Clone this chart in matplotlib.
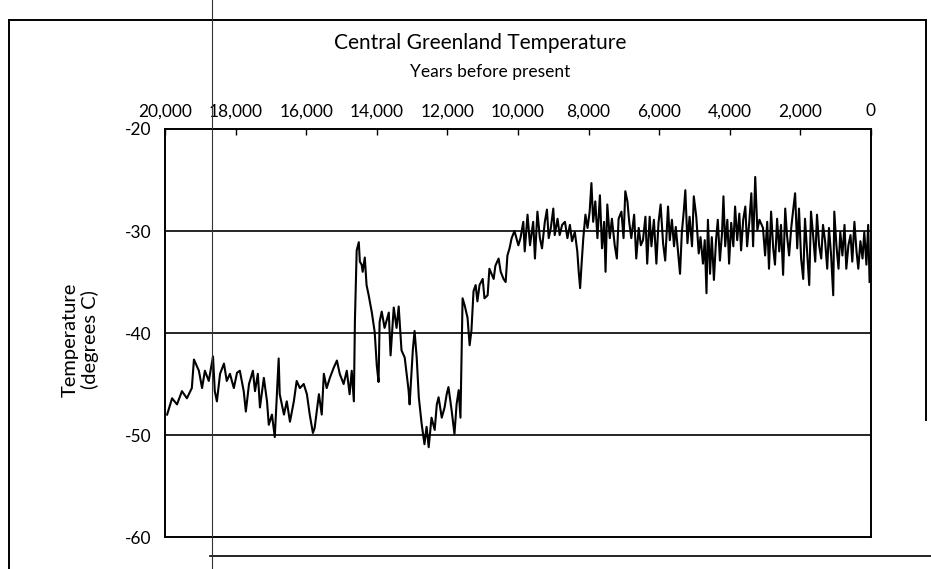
import numpy as np
import matplotlib
matplotlib.use("Agg")
import matplotlib.pyplot as plt
from matplotlib.lines import Line2D
from matplotlib.ticker import FuncFormatter

plt.rcParams['font.family'] = ['Lato', 'DejaVu Sans']
plt.rcParams['axes.unicode_minus'] = False

# ---------- Daten ----------
# letzte Eiszeit, 20.000 - 14.700 Jahre vor heute
glacial_years = [19940, 19800, 19660, 19520, 19380, 19240, 19180, 19040, 18950, 18870,
                 18760, 18640, 18590, 18530, 18440, 18330, 18250, 18160, 18050, 17960,
                 17880, 17770, 17710, 17620, 17510, 17450, 17370, 17310, 17200, 17110,
                 17060, 16970, 16890, 16780, 16750, 16630, 16550, 16460, 16350, 16270,
                 16180, 16070, 15980, 15900, 15810, 15760, 15640, 15560, 15500, 15420,
                 15330, 15220, 15130, 15050, 14940, 14850, 14770, 14710, 14650]
glacial_temps = [-48.0, -46.4, -47.0, -45.7, -46.4, -45.4, -42.6, -43.7, -45.4, -43.7,
                 -44.7, -42.3, -45.7, -46.7, -44.0, -43.0, -44.7, -44.0, -45.4, -43.9,
                 -43.7, -45.7, -47.7, -45.0, -43.7, -45.7, -44.0, -47.3, -44.4, -46.7,
                 -49.0, -48.0, -50.2, -42.5, -46.0, -48.0, -46.7, -48.7, -46.7, -44.7,
                 -45.4, -45.0, -46.0, -48.0, -49.8, -49.3, -46.0, -48.0, -44.0, -45.4,
                 -44.4, -43.4, -42.7, -44.0, -45.0, -43.7, -46.0, -43.7, -46.7]

# Boelling-Alleroed, Juengere Dryas, Uebergang ins Holozaen
deglacial_years = [14620, 14570, 14510, 14480, 14430, 14400, 14340, 14290, 14230, 14140,
                   14060, 14000, 13950, 13920, 13860, 13780, 13660, 13610, 13520, 13440,
                   13380, 13300, 13210, 13100, 13070, 12980, 12930, 12870, 12810, 12730,
                   12650, 12590, 12530, 12450, 12360, 12300, 12250, 12160, 12080, 12020,
                   11970, 11880, 11800, 11740, 11680, 11630, 11570, 11510, 11430, 11370,
                   11320, 11260, 11200, 11150, 11090, 11000, 10950, 10860, 10810, 10690,
                   10640, 10550, 10490, 10410, 10350, 10300, 10240, 10180, 10100, 9990,
                   9930]
deglacial_temps = [-38.8, -31.9, -31.1, -33.0, -33.3, -34.0, -32.6, -35.3, -36.3, -38.0,
                   -39.9, -43.2, -44.8, -38.9, -37.9, -39.5, -38.0, -42.2, -37.5, -39.5,
                   -37.4, -41.7, -42.4, -45.6, -47.0, -41.7, -39.8, -42.4, -46.3, -48.9,
                   -50.9, -49.2, -51.2, -48.3, -49.5, -47.0, -46.3, -48.3, -47.3, -46.0,
                   -45.3, -47.6, -49.9, -47.0, -45.6, -48.3, -36.6, -37.3, -38.5, -41.2,
                   -39.8, -35.9, -35.3, -36.9, -35.3, -34.7, -36.6, -36.3, -33.7, -34.7,
                   -33.4, -32.7, -34.0, -34.7, -35.0, -32.4, -31.7, -30.7, -30.0, -31.4,
                   -30.7]

# fruehes Holozaen (inkl. 8.200-Jahre-Ereignis)
early_holo_years = [9850, 9810, 9730, 9660, 9570, 9520, 9450, 9380, 9320, 9240,
                    9180, 9130, 9070, 9000, 8960, 8880, 8820, 8750, 8670, 8600,
                    8530, 8470, 8390, 8320, 8280, 8240, 8200, 8150, 8090, 8030,
                    7970, 7920, 7870, 7810, 7750, 7680, 7620, 7560, 7520, 7470,
                    7400, 7340, 7260, 7200, 7150, 7070, 7010, 6960, 6900, 6850,
                    6790, 6710, 6650, 6580, 6520]
early_holo_temps = [-29.1, -32.0, -28.4, -31.4, -29.1, -32.7, -28.1, -30.7, -31.7, -29.1,
                    -27.9, -30.7, -29.7, -27.8, -30.4, -28.8, -30.4, -29.4, -29.1, -30.7,
                    -29.4, -31.0, -30.1, -32.0, -34.0, -35.6, -33.3, -30.7, -28.4, -29.7,
                    -28.1, -25.3, -29.1, -27.1, -30.7, -26.5, -31.7, -29.1, -34.0, -27.4,
                    -30.7, -28.8, -31.4, -32.7, -28.8, -28.1, -30.7, -26.1, -27.1, -29.1,
                    -30.7, -28.4, -32.7, -29.7, -31.4]

# mittleres Holozaen
mid_holo_years = [6460, 6390, 6340, 6270, 6220, 6150, 6080, 6020, 5960, 5890,
                  5830, 5750, 5700, 5640, 5580, 5530, 5470, 5410, 5360, 5300,
                  5260, 5200, 5140, 5070, 5020, 4950, 4880, 4830, 4760, 4710,
                  4660, 4620, 4560, 4510, 4450, 4390, 4340, 4280, 4220, 4180,
                  4130, 4070, 4020, 3960, 3900, 3850, 3790, 3730, 3680, 3620,
                  3560, 3510, 3450, 3390, 3340, 3280, 3220, 3160]
mid_holo_temps = [-30.9, -28.6, -33.2, -28.6, -31.5, -28.9, -33.2, -29.2, -27.4, -31.2,
                  -32.9, -27.6, -30.9, -28.9, -31.5, -29.6, -31.9, -34.2, -30.2, -27.9,
                  -26.0, -31.2, -28.6, -31.5, -26.6, -28.6, -32.2, -30.6, -33.2, -30.9,
                  -36.1, -28.9, -34.2, -30.6, -34.8, -30.9, -28.9, -32.9, -30.2, -26.6,
                  -31.5, -28.9, -33.2, -29.2, -31.5, -27.6, -30.9, -28.3, -31.9, -28.9,
                  -27.6, -31.5, -29.2, -26.3, -31.5, -24.7, -29.9, -28.9]

# spaetes Holozaen
late_holo_years = [3060, 3000, 2940, 2890, 2830, 2770, 2720, 2660, 2600, 2550,
                   2490, 2430, 2380, 2320, 2260, 2210, 2150, 2090, 2040, 1980,
                   1920, 1870, 1810, 1750, 1700, 1640, 1580, 1530, 1470, 1410,
                   1360, 1300, 1240, 1190, 1130, 1070, 1040, 980, 920, 870,
                   810, 750, 700, 640, 580, 530, 470, 410, 360, 300,
                   240, 190, 130, 80, 40]
late_holo_temps = [-29.7, -32.4, -29.1, -33.7, -28.1, -31.7, -33.3, -28.8, -32.0, -29.4,
                   -34.3, -27.8, -30.4, -32.4, -29.7, -28.1, -26.3, -31.7, -27.8, -32.7,
                   -34.7, -28.8, -32.0, -35.3, -28.1, -30.4, -33.0, -28.4, -31.4, -32.7,
                   -29.4, -31.0, -33.7, -29.7, -32.4, -36.3, -28.1, -31.4, -33.7, -30.1,
                   -32.4, -29.4, -33.7, -31.4, -30.4, -33.0, -29.1, -32.0, -33.7, -31.0,
                   -32.7, -30.1, -33.3, -29.4, -35.0]

x_ticks = [20000, 18000, 16000, 14000, 12000, 10000, 8000, 6000, 4000, 2000, 0]
y_ticks = [-20, -30, -40, -50, -60]

years = np.concatenate([glacial_years, deglacial_years, early_holo_years,
                        mid_holo_years, late_holo_years])
temps = np.concatenate([glacial_temps, deglacial_temps, early_holo_temps,
                        mid_holo_temps, late_holo_temps])

# ---------- Plot ----------
W, H = 931, 569
fig = plt.figure(figsize=(W / 100, H / 100), dpi=100)
ax = fig.add_axes([165 / W, 1 - 537 / H, 706 / W, 408 / H])

ax.plot(years, temps, color="black", lw=1.5)

ax.set_xlim(20000, 0)
ax.set_ylim(-60, -20)
ax.set_xticks(x_ticks)
ax.set_yticks(y_ticks)
ax.xaxis.set_major_formatter(FuncFormatter(lambda v, p: f"{int(v):,}"))
ax.xaxis.tick_top()
ax.tick_params(axis="x", direction="in", length=4, width=1, pad=7, labelsize=12.5)
ax.tick_params(axis="y", length=0, pad=10, labelsize=12.5)
for v in (-30, -40, -50):
    ax.axhline(v, color="black", lw=1.2)
for s in ax.spines.values():
    s.set_linewidth(1.4)

fig.text(480 / W, 1 - 43 / H, "Central Greenland Temperature", ha="center", va="center", fontsize=15)
fig.text(490 / W, 1 - 72 / H, "Years before present", ha="center", va="center", fontsize=12.5)
fig.text(80 / W, 1 - 340 / H, "Temperature\n(degrees C)", ha="center", va="center",
         rotation=90, fontsize=14.5, linespacing=1.15)

# Rahmen und Scan-Linie
def px_line(x0, y0, x1, y1, lw, color="black"):
    fig.add_artist(Line2D([x0 / W, x1 / W], [1 - y0 / H, 1 - y1 / H],
                          transform=fig.transFigure, lw=lw, color=color))

px_line(9, 20, 926, 20, 1.4)
px_line(9, 20, 9, 569, 1.4)
px_line(926, 20, 926, 420, 1.4)
px_line(210, 556, 931, 556, 1.2)
px_line(212, 0, 212, 569, 0.8, "#333333")

fig.savefig("out.png", dpi=100)
